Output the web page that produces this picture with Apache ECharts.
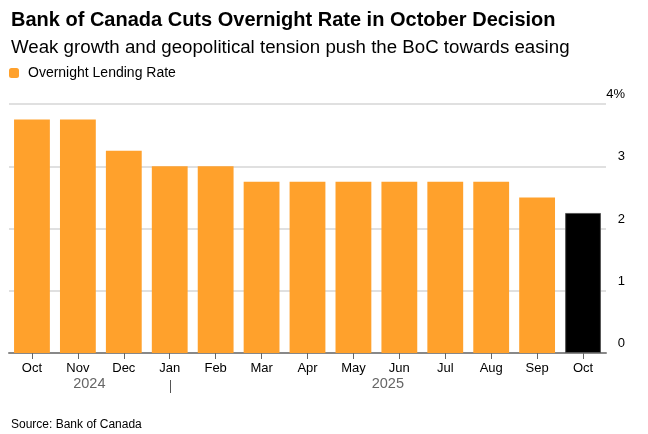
<!DOCTYPE html>
<html>
<head>
<meta charset="utf-8">
<script src="https://cdn.jsdelivr.net/npm/echarts@6/dist/echarts.min.js"></script>
<style>
html,body{margin:0;padding:0;background:#fff;}
#chart{width:648px;height:434px;}
</style>
</head>
<body>
<div id="chart"></div>
<script>
const months = ['Oct','Nov','Dec','Jan','Feb','Mar','Apr','May','Jun','Jul','Aug','Sep','Oct'];
const rates = [3.75, 3.75, 3.25, 3.0, 3.0, 2.75, 2.75, 2.75, 2.75, 2.75, 2.75, 2.5, 2.25];
const yearLabels = ['2024', '2025'];
const yearSpans = [[-0.5, 3], [3, 12.5]];
const yearSeparators = [3];

const FONT = '"Liberation Sans", Arial, sans-serif';
const ORANGE = '#ffa12c';

const chart = echarts.init(document.getElementById('chart'));
const lastIdx = rates.length - 1;

chart.setOption({
  animation: false,
  textStyle: { fontFamily: FONT },
  title: [
    { text: 'Bank of Canada Cuts Overnight Rate in October Decision', left: 6, top: 5,
      textStyle: { fontFamily: FONT, fontSize: 20, fontWeight: 'bold', color: '#000' } },
    { text: 'Weak growth and geopolitical tension push the BoC towards easing', left: 6, top: 33,
      textStyle: { fontFamily: FONT, fontSize: 18.7, fontWeight: 'normal', color: '#000' } },
    { text: 'Source: Bank of Canada', left: 6, top: 414,
      textStyle: { fontFamily: FONT, fontSize: 12, fontWeight: 'normal', color: '#000' } }
  ],
  legend: {
    left: 4, top: 61, itemWidth: 10, itemHeight: 10, itemGap: 9,
    icon: 'roundRect',
    textStyle: { fontFamily: FONT, fontSize: 14, color: '#000', padding: [0, 0, 0, 4] },
    data: [{ name: 'Overnight Lending Rate', itemStyle: { color: ORANGE } }]
  },
  grid: { left: 9, right: 42, top: 104, bottom: 81, containLabel: false },
  xAxis: {
    type: 'category',
    data: months,
    axisLine: { show: true, lineStyle: { color: '#888', width: 2 } },
    axisTick: { show: true, alignWithLabel: true, length: 6, lineStyle: { color: '#666', width: 1 } },
    axisLabel: { color: '#000', fontSize: 13, fontFamily: FONT, margin: 9, interval: 0 }
  },
  yAxis: {
    type: 'value',
    position: 'right',
    min: 0, max: 4, interval: 1,
    axisLine: { show: false },
    axisTick: { show: false },
    splitLine: { show: true, lineStyle: { color: '#e0e0e0', width: 2 } },
    axisLabel: {
      align: 'right', verticalAlign: 'bottom', margin: 19,
      padding: [0, 0, 3, 0],
      color: '#000', fontSize: 13, fontFamily: FONT,
      formatter: function (v) { return v === 4 ? v + '%' : String(v); }
    }
  },
  series: [{
    name: 'Overnight Lending Rate',
    type: 'bar',
    barCategoryGap: '22%',
    data: rates.map(function (v, i) {
      return i === lastIdx
        ? { value: v, itemStyle: { color: '#000', borderColor: '#555', borderWidth: 1 } }
        : { value: v, itemStyle: { color: ORANGE } };
    })
  }]
});

// year labels positioned through the category scale
const x0 = chart.convertToPixel({ xAxisIndex: 0 }, 0);
const step = chart.convertToPixel({ xAxisIndex: 0 }, 1) - x0;
const graphics = [];
yearLabels.forEach(function (lbl, k) {
  const a = x0 + yearSpans[k][0] * step;
  const b = x0 + yearSpans[k][1] * step;
  graphics.push({
    type: 'text', x: (a + b) / 2, y: 384,
    style: { text: lbl, fill: '#666', font: '14.5px ' + FONT, align: 'center', verticalAlign: 'middle' }
  });
});
yearSeparators.forEach(function (idx) {
  const x = Math.round(chart.convertToPixel({ xAxisIndex: 0 }, idx)) + 0.5;
  graphics.push({
    type: 'line', shape: { x1: x, y1: 380, x2: x, y2: 393 },
    style: { stroke: '#555', lineWidth: 1 }
  });
});
chart.setOption({ graphic: graphics });
</script>
</body>
</html>
